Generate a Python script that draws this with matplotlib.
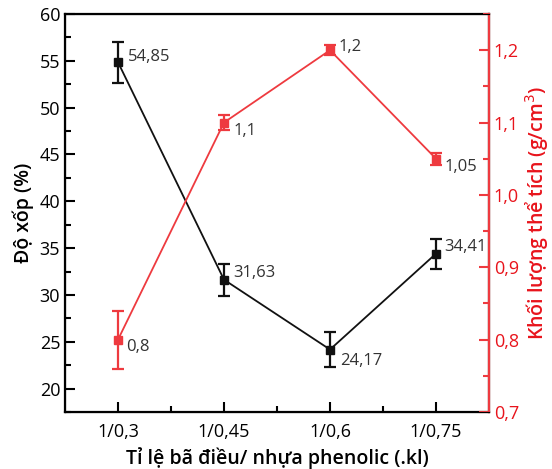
import matplotlib
matplotlib.use('Agg')
import matplotlib.pyplot as plt
from matplotlib.ticker import MultipleLocator

plt.rcParams['font.family'] = ['Open Sans', 'DejaVu Sans']

categories = ['1/0,3', '1/0,45', '1/0,6', '1/0,75']
porosity = [54.85, 31.63, 24.17, 34.41]
porosity_err = [2.2, 1.7, 1.9, 1.6]
porosity_labels = ['54,85', '31,63', '24,17', '34,41']
density = [0.80, 1.10, 1.20, 1.05]
density_err = [0.04, 0.01, 0.007, 0.008]
density_labels = ['0,8', '1,1', '1,2', '1,05']

black = '#111111'
red = '#ee3a3f'
red_txt = '#e8141c'

fig = plt.figure(figsize=(5.52, 4.69), dpi=100)
ax = fig.add_axes([65 / 552, 1 - 412 / 469, 424 / 552, 398 / 469])
x = range(len(categories))

ax.errorbar(x, porosity, yerr=porosity_err, color=black, marker='s', markersize=6,
            lw=1.3, capsize=4, elinewidth=1.6, capthick=1.6)
ax.set_xlim(-0.5, 3.5)
ax.set_ylim(17.5, 60)
ax.yaxis.set_major_locator(MultipleLocator(5))
ax.yaxis.set_minor_locator(MultipleLocator(2.5))
ax.set_xticks(list(x))
ax.set_xticks([0.5, 1.5, 2.5], minor=True)
ax.set_xticklabels(categories)
ax.tick_params(which='both', direction='in', labelsize=13, width=1.5)
ax.tick_params(which='major', length=7)
ax.tick_params(which='minor', length=4)
ax.tick_params(axis='x', pad=8)
for s in ax.spines.values():
    s.set_linewidth(1.6)
ax.set_ylabel('Độ xốp (%)', fontsize=14, fontweight='semibold', labelpad=4)
ax.set_xlabel('Tỉ lệ bã điều/ nhựa phenolic (.kl)', fontsize=14, fontweight='semibold', labelpad=4)

offs_p = [(7, 4), (7, 5), (7, -8), (6, 5)]
for i, (v, lab) in enumerate(zip(porosity, porosity_labels)):
    ax.annotate(lab, (i, v), xytext=offs_p[i], textcoords='offset points',
                fontsize=12, color='#333333', va='center', ha='left')

ax2 = ax.twinx()
ax2.errorbar(x, density, yerr=density_err, color=red, marker='s', markersize=6,
             lw=1.3, capsize=4, elinewidth=1.6, capthick=1.6)
ax2.set_ylim(0.7, 1.25)
ax2.yaxis.set_major_locator(MultipleLocator(0.1))
ax2.yaxis.set_minor_locator(MultipleLocator(0.05))
ax2.yaxis.set_major_formatter(plt.FuncFormatter(lambda v, p: f'{v:.1f}'.replace('.', ',')))
ax2.tick_params(which='both', direction='in', labelsize=13, width=1.5, colors=red, labelcolor=red_txt)
ax2.tick_params(which='major', length=7)
ax2.tick_params(which='minor', length=4)
ax2.spines['right'].set_color(red)
ax2.spines['right'].set_linewidth(1.6)
ax2.set_ylabel('Khối lượng thể tích (g/cm$^3$)', fontsize=14, fontweight='semibold',
               color=red_txt, labelpad=3)

offs_d = [(6, -5), (7, -6), (6, 2), (6, -6)]
for i, (v, lab) in enumerate(zip(density, density_labels)):
    ax2.annotate(lab, (i, v), xytext=offs_d[i], textcoords='offset points',
                 fontsize=12, color='#333333', va='center', ha='left')

fig.savefig('out.png', dpi=100)
